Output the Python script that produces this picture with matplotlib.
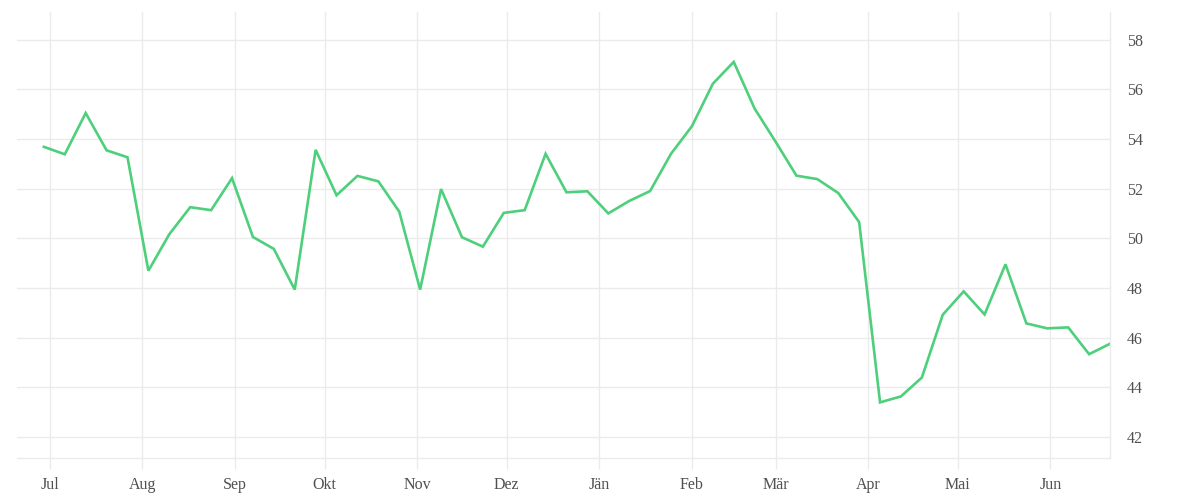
import matplotlib.pyplot as plt
import matplotlib.dates as mdates
import numpy as np
import pandas as pd

# weekly values
start = "2022-06-29"
values = [53.69, 53.39, 55.05, 53.55, 53.27, 48.70, 50.17, 51.26, 51.14, 52.43,
          50.06, 49.58, 47.94, 53.57, 51.74, 52.52, 52.30, 51.08, 47.94, 51.99,
          50.05, 49.67, 51.03, 51.14, 53.41, 51.86, 51.90, 51.01, 51.51, 51.91,
          53.41, 54.52, 56.23, 57.11, 55.23, 53.90, 52.53, 52.39, 51.83, 50.66,
          43.40, 43.64, 44.40, 46.93, 47.87, 46.94, 48.96, 46.58, 46.38, 46.42,
          45.34, 45.76]
dates = pd.date_range(start, periods=len(values), freq="7D")

month_labels = ["Jul", "Aug", "Sep", "Okt", "Nov", "Dez",
                "Jän", "Feb", "Mär", "Apr", "Mai", "Jun"]
month_ticks = pd.date_range("2022-07-01", periods=12, freq="MS")
y_ticks = [42, 44, 46, 48, 50, 52, 54, 56, 58]

grid_col = "#ebebeb"
text_col = "#505050"
line_col = "#4dcf7c"

plt.rcParams["font.family"] = ["Liberation Serif", "DejaVu Serif"]

fig = plt.figure(figsize=(12, 5), dpi=100)
ax = fig.add_axes([17 / 1200, 1 - 458 / 500, (1110 - 17) / 1200, (458 - 12) / 500])

ax.plot(dates, values, color=line_col, lw=1.9, solid_joinstyle="miter")

ax.set_xlim(pd.Timestamp("2022-06-20"), dates[-1])
ax.set_ylim(41.16, 59.12)

ax.set_xticks(month_ticks)
ax.set_xticklabels(month_labels)
ax.set_yticks(y_ticks)
ax.yaxis.tick_right()

ax.grid(True, color=grid_col, lw=1)
ax.set_axisbelow(True)
ax.tick_params(axis="x", length=8, width=1, color=grid_col, pad=6,
               labelsize=11.5, labelcolor=text_col)
ax.tick_params(axis="y", length=0, pad=12, labelsize=11.5, labelcolor=text_col)

for side in ["top", "left"]:
    ax.spines[side].set_visible(False)
for side in ["bottom", "right"]:
    ax.spines[side].set_color(grid_col)
    ax.spines[side].set_linewidth(1)

fig.savefig("out.png", dpi=100)
